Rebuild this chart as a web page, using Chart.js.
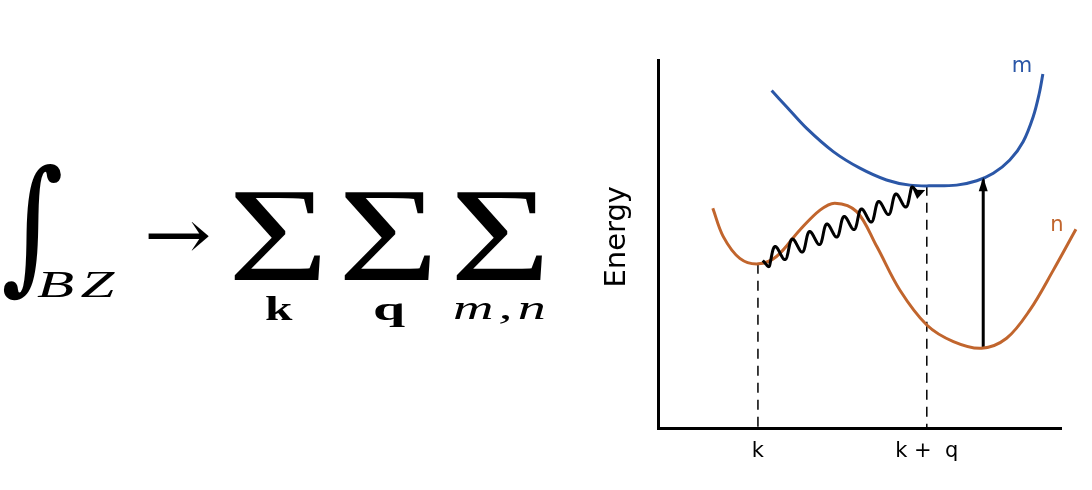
<!DOCTYPE html>
<html>
<head>
<meta charset="utf-8">
<script src="https://cdn.jsdelivr.net/npm/chart.js@4"></script>
<style>
html,body{margin:0;padding:0;background:#fff;}
#wrap{position:relative;width:1092px;height:490px;overflow:hidden;background:#fff}
canvas{position:absolute;left:0;top:0}
.t{position:absolute;line-height:1;white-space:pre;color:#000;transform-origin:0 0;font-family:"Liberation Serif",serif}
</style>
</head>
<body>
<div id="wrap">
<canvas id="c" width="1092" height="490"></canvas>
<span class="t" style="left:1px;top:151.7px;font-family:'DejaVu Serif';font-size:120px;transform:scaleY(1.21)">∫</span>
<span class="t" style="left:37px;top:265px;font-size:38px;font-style:italic;letter-spacing:4px;transform:scaleX(1.6)">BZ</span>
<span class="t" style="left:144px;top:200px;font-family:'DejaVu Serif';font-size:70px;transform:scaleX(1.15)">→</span>
<span class="t" style="left:228px;top:168.6px;font-size:133px;transform:scaleX(1.3)">Σ</span>
<span class="t" style="left:338px;top:168.6px;font-size:133px;transform:scaleX(1.3)">Σ</span>
<span class="t" style="left:450px;top:168.6px;font-size:133px;transform:scaleX(1.3)">Σ</span>
<span class="t" style="left:265px;top:291.5px;font-size:34px;font-weight:bold;transform:scaleX(1.45)">k</span>
<span class="t" style="left:373px;top:291.5px;font-size:34px;font-weight:bold;transform:scaleX(1.7)">q</span>
<span class="t" style="left:453px;top:292.4px;font-size:33px;font-style:italic;letter-spacing:3px;transform:scaleX(1.7)">m,n</span>
</div>
<script>
// ---- data ----
const bandMX = [2.82, 3.19, 3.69, 4.35, 5.01, 5.67, 6.25, 6.83, 7.41, 7.91, 8.32, 8.73, 9.06, 9.31, 9.46, 9.55];
const bandMY = [9.17, 8.73, 8.14, 7.51, 7.06, 6.74, 6.60, 6.58, 6.60, 6.72, 6.92, 7.28, 7.78, 8.46, 9.09, 9.62];
const bandNX = [1.36, 1.62, 2.03, 2.49, 2.94, 3.52, 4.02, 4.39, 4.93, 5.43, 6.00, 6.67, 7.33, 8.03, 8.65, 9.23, 9.81, 10.37];
const bandNY = [5.97, 5.20, 4.61, 4.46, 4.66, 5.38, 5.92, 6.11, 5.88, 4.93, 3.75, 2.80, 2.35, 2.17, 2.44, 3.21, 4.29, 5.40];
const bandNames = ['m', 'n'];
const tickValues = [2.48, 6.67];
const tickLabels = ['k', 'k +  q'];
const dropK = [[2.48, 4.46], [2.48, 0]];
const dropKQ = [[6.67, 6.58], [6.67, 0]];
const transitionFrom = [8.07, 2.17];
const transitionTo = [8.07, 6.79];
const phononFrom = [2.60, 4.55];
const phononTo = [6.63, 6.47];
const axisTitle = '\u2002Energy';

const BLUE = '#2b57a7', ORANGE = '#c1652d';
const pts = (xs, ys) => xs.map((x, i) => ({x, y: ys[i]}));
const pairs = p => p.map(([x, y]) => ({x, y}));

const decor = {
  id: 'decor',
  afterDatasetsDraw(chart) {
    const {ctx, scales: {x, y}} = chart;
    ctx.save();
    // phonon wavy arrow
    const sx = x.getPixelForValue(phononFrom[0]), sy = y.getPixelForValue(phononFrom[1]);
    const ex = x.getPixelForValue(phononTo[0]), ey = y.getPixelForValue(phononTo[1]);
    const L = Math.hypot(ex - sx, ey - sy), ux = (ex - sx) / L, uy = (ey - sy) / L;
    const nx = -uy, ny = ux;
    const head = 11, Lw = L - head * 0.7, periods = 9, A = 8, B = 2.5;
    ctx.beginPath();
    for (let i = 0; i <= 900; i++) {
      const t = i / 900 * Lw;
      const ph = 2 * Math.PI * periods * t / Lw;
      const w = A * Math.sin(ph);
      const along = t - B * Math.sin(ph) * Math.min(1, t / 8, (Lw - t) / 8);
      const px = sx + ux * along + nx * w, py = sy + uy * along + ny * w;
      i ? ctx.lineTo(px, py) : ctx.moveTo(px, py);
    }
    ctx.strokeStyle = '#000'; ctx.lineWidth = 3; ctx.lineJoin = 'round'; ctx.stroke();
    ctx.beginPath();
    ctx.moveTo(ex, ey);
    ctx.lineTo(ex - ux * head + nx * 5, ey - uy * head + ny * 5);
    ctx.lineTo(ex - ux * head - nx * 5, ey - uy * head - ny * 5);
    ctx.closePath(); ctx.fillStyle = '#000'; ctx.fill();
    // vertical transition arrow head
    const tx = x.getPixelForValue(transitionTo[0]), ty = y.getPixelForValue(transitionTo[1]);
    ctx.beginPath();
    ctx.moveTo(tx, ty - 1);
    ctx.lineTo(tx - 4.5, ty + 13);
    ctx.lineTo(tx + 4.5, ty + 13);
    ctx.closePath(); ctx.fill();
    // band labels
    ctx.font = '21px "DejaVu Sans"';
    ctx.textAlign = 'center'; ctx.textBaseline = 'alphabetic';
    const mLast = bandMX.length - 1, nLast = bandNX.length - 1;
    ctx.fillStyle = BLUE;
    ctx.fillText(bandNames[0], x.getPixelForValue(bandMX[mLast]) - 21, y.getPixelForValue(bandMY[mLast]) - 2);
    ctx.fillStyle = ORANGE;
    ctx.fillText(bandNames[1], x.getPixelForValue(bandNX[nLast]) - 19, y.getPixelForValue(bandNY[nLast]) + 2);
    ctx.restore();
  }
};

const line = (data, color, w, extra) => Object.assign({
  data, borderColor: color, backgroundColor: color, borderWidth: w, pointRadius: 0,
  showLine: true, fill: false, clip: false
}, extra || {});

new Chart(document.getElementById('c'), {
  type: 'scatter',
  data: {
    datasets: [
      line(pts(bandMX, bandMY), BLUE, 3, {label: bandNames[0], tension: 0.35}),
      line(pts(bandNX, bandNY), ORANGE, 3, {label: bandNames[1], tension: 0.35}),
      line(pairs(dropK), '#000', 1.5, {borderDash: [10, 7]}),
      line(pairs(dropKQ), '#000', 1.5, {borderDash: [10, 7]}),
      line(pairs([transitionFrom, transitionTo]), '#000', 3)
    ]
  },
  options: {
    responsive: false,
    animation: false,
    devicePixelRatio: 1,
    layout: {padding: {left: 600, right: 31, top: 60, bottom: 0}},
    plugins: {legend: {display: false}, tooltip: {enabled: false}},
    scales: {
      x: {
        type: 'linear', min: 0, max: 10,
        afterFit(s) { s.height = 62; },
        afterBuildTicks(s) { s.ticks = tickValues.map(v => ({value: v})); },
        grid: {display: false},
        border: {display: true, color: '#000', width: 3},
        ticks: {
          autoSkip: false, maxRotation: 0, padding: 3, color: '#000',
          font: {family: 'DejaVu Sans', size: 21},
          callback: (v, i) => tickLabels[i]
        }
      },
      y: {
        type: 'linear', min: 0, max: 10,
        afterFit(s) { s.width = 58; },
        grid: {display: false},
        border: {display: true, color: '#000', width: 3},
        ticks: {display: false},
        title: {display: true, text: axisTitle, color: '#000', padding: {top: 0, bottom: 0},
                font: {family: 'DejaVu Sans', size: 29}}
      }
    }
  },
  plugins: [decor]
});
</script>
</body>
</html>
